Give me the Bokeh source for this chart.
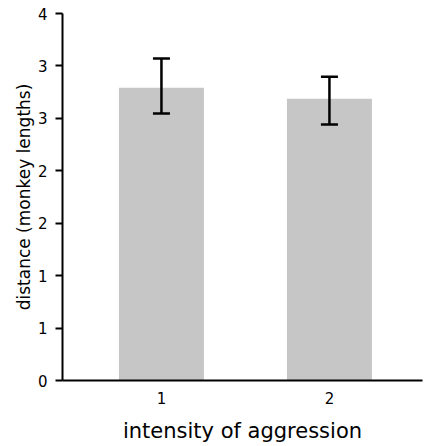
from bokeh.plotting import figure
from bokeh.models import FixedTicker, CustomJSTickFormatter, Range1d, Whisker, TeeHead, ColumnDataSource, Title
from bokeh.embed import file_html
from bokeh.resources import INLINE

# data
categories = [1, 2]
means = [3.19, 3.07]
err_upper = [3.51, 3.31]
err_lower = [2.91, 2.79]
y_ticks = [k * 4 / 7 for k in range(8)]
y_tick_labels = ["0", "1", "1", "2", "2", "3", "3", "4"]
x_tick_labels = ["1", "2"]

FONT = "DejaVu Sans"

x_start, x_end = 0.411, 2.554
p = figure(width=424, height=446, output_backend="svg", toolbar_location=None,
           x_range=Range1d(x_start, x_end), y_range=Range1d(0, 4),
           min_border_left=62, min_border_right=2, min_border_top=13, min_border_bottom=66)
p.outline_line_color = None
p.grid.grid_line_color = None

src = ColumnDataSource(dict(x=categories, top=means, upper=err_upper, lower=err_lower))
p.vbar(x="x", top="top", width=0.506, source=src, fill_color="#c6c6c6", line_color=None)

w = Whisker(base="x", upper="upper", lower="lower", source=src, line_width=2.5, line_color="black",
            level="overlay",
            upper_head=TeeHead(size=17, line_width=2.5, line_color="black"),
            lower_head=TeeHead(size=17, line_width=2.5, line_color="black"))
p.add_layout(w)

# axes
p.xaxis.ticker = FixedTicker(ticks=categories)
p.xaxis.major_label_overrides = {c: l for c, l in zip(categories, x_tick_labels)}
p.xaxis.major_tick_out = 0
p.xaxis.major_tick_in = 0
p.xaxis.minor_tick_out = 0
p.xaxis.minor_tick_in = 0
p.xaxis.axis_line_width = 2
p.xaxis.major_label_standoff = 11
p.xaxis.major_label_text_font = FONT
p.xaxis.major_label_text_font_size = "15px"
p.xaxis.major_label_text_color = "black"
p.xaxis.axis_label = "intensity of aggression"
p.xaxis.axis_label_text_font = FONT
p.xaxis.axis_label_text_font_size = "21px"
p.xaxis.axis_label_text_font_style = "normal"
p.xaxis.axis_label_text_color = "black"
p.xaxis.axis_label_standoff = 12

p.yaxis.ticker = FixedTicker(ticks=y_ticks)
p.yaxis.formatter = CustomJSTickFormatter(args=dict(tvals=y_ticks, tlabels=y_tick_labels), code="""
let best = 0;
for (let i = 0; i < tvals.length; i++) {
  if (Math.abs(tvals[i] - tick) < Math.abs(tvals[best] - tick)) best = i;
}
return tlabels[best];
""")
p.yaxis.major_tick_out = 7
p.yaxis.major_tick_in = 0
p.yaxis.minor_tick_out = 0
p.yaxis.minor_tick_in = 0
p.yaxis.axis_line_width = 2
p.yaxis.major_tick_line_width = 2
p.yaxis.major_label_standoff = 8
p.yaxis.major_label_text_font = FONT
p.yaxis.major_label_text_font_size = "15px"
p.yaxis.major_label_text_color = "black"

ytitle = Title(text="distance (monkey lengths)", align="center",
               text_font=FONT, text_font_size="17px", text_font_style="normal",
               text_color="black", standoff=1)
p.add_layout(ytitle, "left")

open("out.html", "w").write(file_html(p, INLINE))
